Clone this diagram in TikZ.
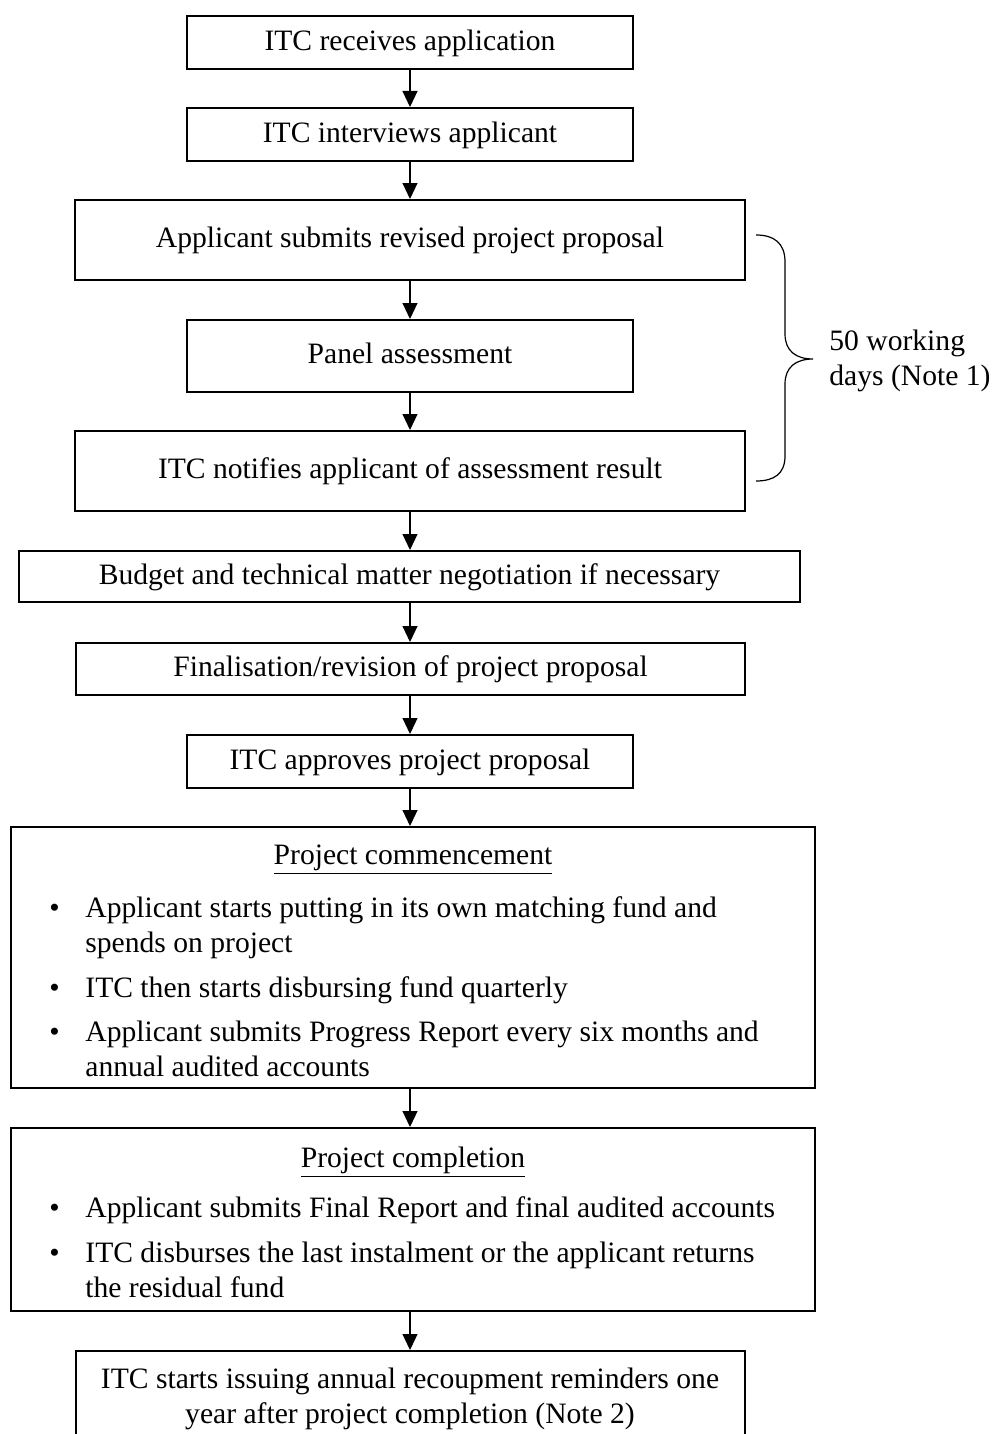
\documentclass[tikz,border=0pt]{standalone}
\usepackage{fontspec}
\setmainfont{Liberation Serif}
\usetikzlibrary{arrows.meta}
\begin{document}
\begin{tikzpicture}[x=0.5pt,y=-0.5pt,
 box/.style={draw,line width=1pt,inner sep=0pt,align=center,text height=1em,text depth=0.24em,font=\fontsize{14.8}{17}\selectfont},
 bigbox/.style={draw,line width=1pt,inner sep=0pt},
 arr/.style={-{Triangle[length=8pt,width=7.5pt]},line width=0.55pt},
 txt/.style={inner sep=0pt,font=\fontsize{14.8}{17}\selectfont}]
\useasboundingbox (0,0) rectangle (992,1434);
% simple boxes
\node[box,minimum width=223pt,minimum height=26.5pt] (b1) at (410,42.5) {ITC receives application};
\node[box,minimum width=223pt,minimum height=26.5pt] (b2) at (410,134.5) {ITC interviews applicant};
\node[box,minimum width=335pt,minimum height=40pt] (b3) at (410,240) {Applicant submits revised project proposal};
\node[box,minimum width=223pt,minimum height=36pt] (b4) at (410,356) {Panel assessment};
\node[box,minimum width=335pt,minimum height=40pt] (b5) at (410,471) {ITC notifies applicant of assessment result};
\node[box,minimum width=390.5pt,minimum height=25.5pt] (b6) at (409.5,576.5) {Budget and technical matter negotiation if necessary};
\node[box,minimum width=334.5pt,minimum height=26pt] (b7) at (410.5,669) {Finalisation/revision of project proposal};
\node[box,minimum width=223pt,minimum height=26.5pt] (b8) at (410,761.5) {ITC approves project proposal};
% large boxes
\node[bigbox,minimum width=402pt,minimum height=130.5pt] (b9) at (413,957.5) {};
\node[bigbox,minimum width=402pt,minimum height=91.5pt] (b10) at (413,1219.5) {};
\node[bigbox,minimum width=334.5pt,minimum height=60pt] (b11) at (410.5,1411) {};
% box 9 text
\node[txt,anchor=base] (h9) at (413,864) {\underline{Project commencement}};
\node[txt,anchor=base west] (p1) at (49,917) {•};
\node[txt,anchor=base west] (l1) at (85,917) {Applicant starts putting in its own matching fund and};
\node[txt,anchor=base west] (l2) at (85,952) {spends on project};
\node[txt,anchor=base west] (p2) at (49,997) {•};
\node[txt,anchor=base west] (l3) at (85,997) {ITC then starts disbursing fund quarterly};
\node[txt,anchor=base west] (p3) at (49,1041) {•};
\node[txt,anchor=base west] (l4) at (85,1041) {Applicant submits Progress Report every six months and};
\node[txt,anchor=base west] (l5) at (85,1076) {annual audited accounts};
% box 10 text
\node[txt,anchor=base] (h10) at (413,1167) {\underline{Project completion}};
\node[txt,anchor=base west] (p4) at (49,1217) {•};
\node[txt,anchor=base west] (m1) at (85,1217) {Applicant submits Final Report and final audited accounts};
\node[txt,anchor=base west] (p5) at (49,1262) {•};
\node[txt,anchor=base west] (m2) at (85,1262) {ITC disburses the last instalment or the applicant returns};
\node[txt,anchor=base west] (m3) at (85,1297) {the residual fund};
% box 11 text
\node[txt,anchor=base] (n1) at (410,1388) {ITC starts issuing annual recoupment reminders one};
\node[txt,anchor=base] (n2) at (410,1423) {year after project completion (Note 2)};
% arrows
\draw[arr] (b1.south) -- (b2.north);
\draw[arr] (b2.south) -- (b3.north);
\draw[arr] (b3.south) -- (b4.north);
\draw[arr] (b4.south) -- (b5.north);
\draw[arr] (b5.south) -- (b6.north -| b5.south);
\draw[arr] (b6.south -| b5.south) -- (b7.north -| b5.south);
\draw[arr] (b7.south -| b8.south) -- (b8.north);
\draw[arr] (b8.south) -- (b9.north -| b8.south);
\draw[arr] (b9.south -| b8.south) -- (b10.north -| b8.south);
\draw[arr] (b10.south -| b8.south) -- (b11.north -| b8.south);
% brace
\draw[line width=0.6pt] (756,235) .. controls (774,235) and (785,243) .. (785,262) -- (785,334)
  .. controls (785,351) and (796,359) .. (813,359)
  .. controls (796,359) and (785,367) .. (785,384) -- (785,456)
  .. controls (785,474) and (774,481) .. (756,481);
\node[txt,anchor=base west,align=left] (lab1) at (829,350) {50 working};
\node[txt,anchor=base west,align=left] (lab2) at (829,385) {days (Note 1)};
\end{tikzpicture}
\end{document}
